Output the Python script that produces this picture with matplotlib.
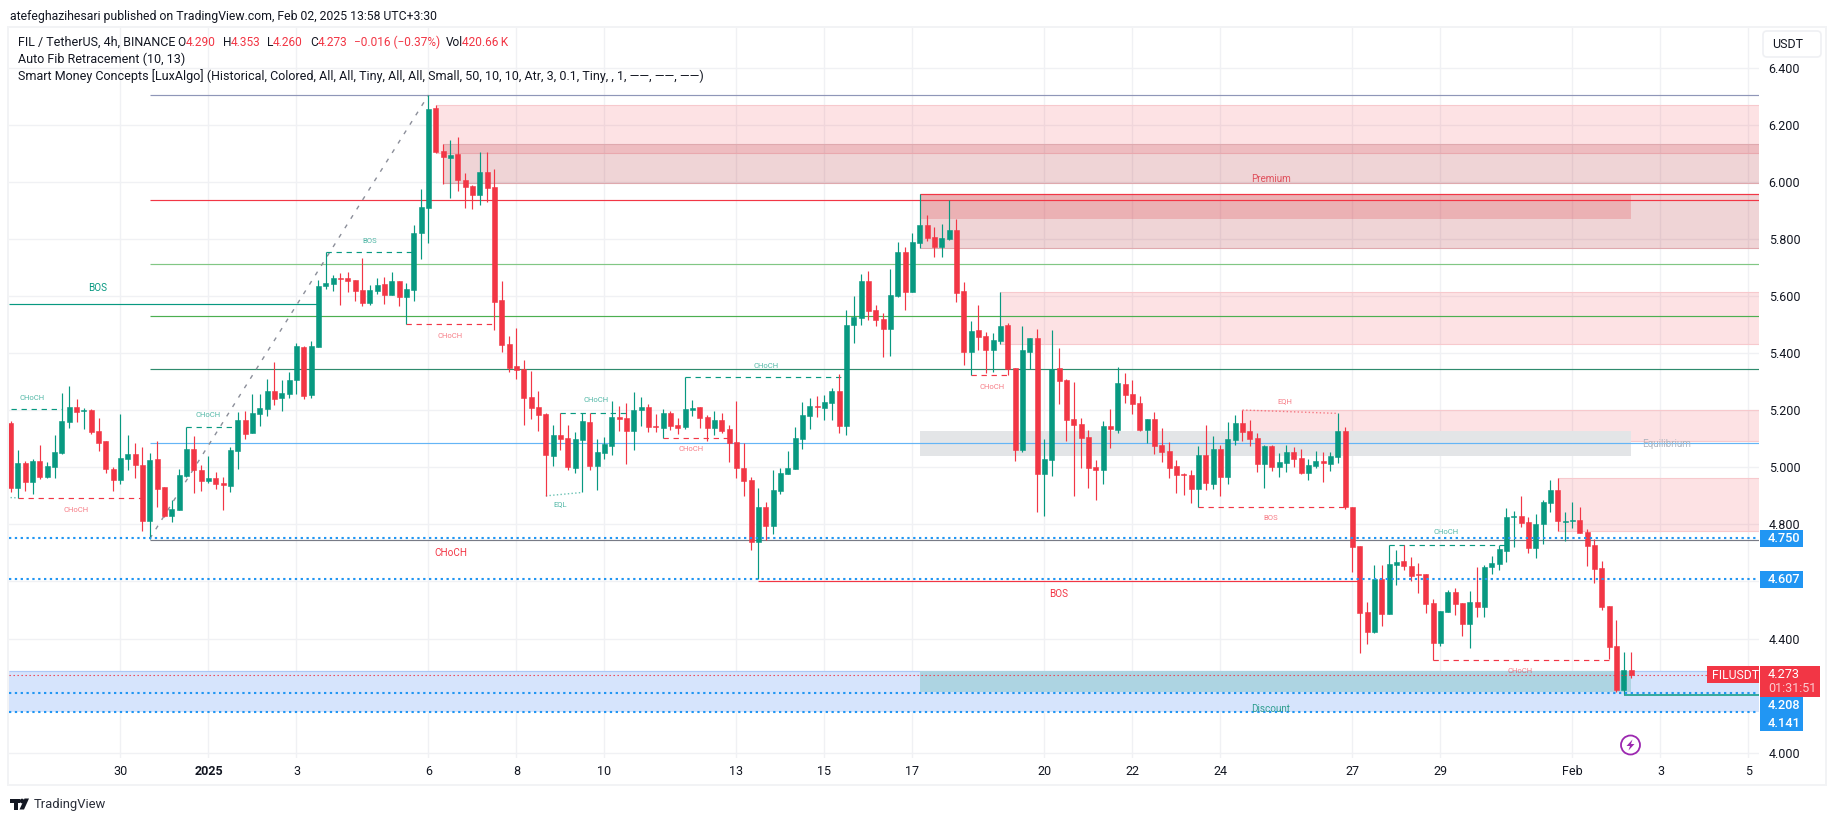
import matplotlib
matplotlib.use("Agg")
import matplotlib.pyplot as plt
from matplotlib.patches import Circle, FancyBboxPatch, Polygon, Rectangle
from matplotlib.transforms import Affine2D

W, H = 1835, 821
GREEN = "#089981"
RED = "#f23645"
BLUE = "#2196f3"
INK = "#131722"
GRID = "#f0f1f4"
FRAME = "#f2f3f5"
FONT = ["Roboto", "DejaVu Sans"]

# 4h candles, oldest first
opens = [
    5.157, 4.929, 5.015, 4.950, 5.022, 4.967, 5.001, 5.050, 5.159, 5.211,
    5.199, 5.201, 5.127, 5.092, 4.994, 4.956, 5.029, 5.047, 5.008, 4.812,
    5.029, 4.931, 4.829, 4.851, 4.970, 5.064, 4.991, 4.952, 4.963, 4.945,
    4.935, 5.057, 5.166, 5.120, 5.187, 5.204, 5.267, 5.243, 5.258, 5.307,
    5.422, 5.254, 5.422, 5.636, 5.643, 5.664, 5.664, 5.657, 5.622, 5.577,
    5.619, 5.643, 5.605, 5.654, 5.598, 5.623, 5.822, 5.910, 6.260, 6.110,
    6.085, 6.099, 6.008, 5.987, 5.956, 6.036, 5.984, 5.588, 5.434, 5.356,
    5.344, 5.247, 5.212, 5.188, 5.041, 5.114, 5.104, 4.998, 5.096, 5.159,
    5.005, 5.050, 5.075, 5.176, 5.173, 5.127, 5.201, 5.211, 5.145, 5.138,
    5.190, 5.148, 5.141, 5.201, 5.211, 5.176, 5.138, 5.166, 5.134, 5.089,
    4.998, 4.956, 4.740, 4.861, 4.794, 4.917, 4.977, 4.994, 5.099, 5.180,
    5.216, 5.208, 5.225, 5.267, 5.145, 5.499, 5.523, 5.653, 5.551, 5.520,
    5.485, 5.600, 5.754, 5.614, 5.786, 5.849, 5.807, 5.772, 5.800, 5.832,
    5.618, 5.404, 5.481, 5.460, 5.411, 5.443, 5.499, 5.348, 5.061, 5.404,
    5.453, 4.977, 5.026, 5.348, 5.306, 5.169, 5.152, 5.106, 5.001, 4.991,
    5.145, 5.131, 5.292, 5.257, 5.225, 5.131, 5.169, 5.078, 5.057, 5.005,
    4.977, 4.973, 4.924, 5.043, 4.942, 5.064, 4.966, 5.096, 5.155, 5.127,
    5.103, 5.012, 5.075, 5.001, 5.015, 5.054, 5.033, 4.980, 5.005, 5.022,
    5.012, 5.036, 5.127, 4.861, 4.724, 4.493, 4.423, 4.609, 4.486, 4.658,
    4.672, 4.654, 4.626, 4.626, 4.525, 4.384, 4.493, 4.563, 4.525, 4.451,
    4.528, 4.511, 4.651, 4.661, 4.707, 4.826, 4.829, 4.808, 4.717, 4.801,
    4.875, 4.921, 4.810, 4.812, 4.815, 4.773, 4.728, 4.647, 4.514, 4.374,
    4.220, 4.290,
]
highs = [
    5.162, 5.061, 5.022, 5.029, 5.078, 5.019, 5.113, 5.260, 5.285, 5.239,
    5.208, 5.204, 5.173, 5.092, 5.001, 5.187, 5.113, 5.085, 5.071, 5.050,
    5.092, 4.931, 4.886, 4.994, 5.141, 5.110, 5.008, 5.040, 4.984, 4.966,
    5.071, 5.194, 5.197, 5.257, 5.257, 5.310, 5.369, 5.306, 5.335, 5.436,
    5.426, 5.443, 5.657, 5.754, 5.675, 5.682, 5.685, 5.657, 5.734, 5.640,
    5.664, 5.668, 5.685, 5.654, 5.647, 5.850, 5.977, 6.305, 6.271, 6.134,
    6.148, 6.159, 6.033, 5.991, 6.106, 6.106, 6.047, 5.654, 5.462, 5.490,
    5.377, 5.338, 5.268, 5.191, 5.149, 5.191, 5.149, 5.125, 5.190, 5.190,
    5.099, 5.106, 5.232, 5.215, 5.225, 5.264, 5.246, 5.222, 5.187, 5.204,
    5.197, 5.173, 5.317, 5.236, 5.211, 5.183, 5.197, 5.190, 5.148, 5.232,
    5.085, 4.967, 4.926, 4.879, 4.991, 4.998, 5.057, 5.141, 5.229, 5.243,
    5.250, 5.253, 5.278, 5.326, 5.551, 5.600, 5.677, 5.688, 5.569, 5.541,
    5.695, 5.790, 5.772, 5.821, 5.958, 5.884, 5.842, 5.853, 5.937, 5.870,
    5.649, 5.513, 5.569, 5.474, 5.471, 5.614, 5.506, 5.348, 5.495, 5.453,
    5.485, 5.099, 5.481, 5.418, 5.310, 5.299, 5.173, 5.131, 5.026, 5.162,
    5.204, 5.351, 5.331, 5.306, 5.250, 5.169, 5.194, 5.138, 5.089, 5.026,
    4.980, 4.991, 5.075, 5.148, 5.110, 5.078, 5.159, 5.183, 5.201, 5.166,
    5.120, 5.078, 5.078, 5.050, 5.078, 5.071, 5.064, 5.029, 5.057, 5.054,
    5.054, 5.189, 5.141, 4.861, 4.724, 4.528, 4.658, 4.658, 4.728, 4.710,
    4.727, 4.687, 4.664, 4.626, 4.539, 4.497, 4.570, 4.577, 4.525, 4.567,
    4.651, 4.658, 4.689, 4.727, 4.858, 4.847, 4.900, 4.826, 4.836, 4.886,
    4.956, 4.963, 4.843, 4.879, 4.861, 4.783, 4.749, 4.672, 4.514, 4.465,
    4.353, 4.353,
]
lows = [
    4.915, 4.891, 4.918, 4.908, 4.959, 4.963, 4.963, 5.047, 5.138, 5.159,
    5.134, 5.117, 5.057, 4.980, 4.917, 4.942, 4.991, 4.963, 4.777, 4.750,
    4.861, 4.825, 4.808, 4.851, 4.966, 4.910, 4.917, 4.945, 4.924, 4.850,
    4.914, 4.994, 5.099, 5.120, 5.145, 5.180, 5.218, 5.197, 5.244, 5.258,
    5.240, 5.244, 5.422, 5.626, 5.619, 5.570, 5.615, 5.584, 5.566, 5.570,
    5.608, 5.573, 5.605, 5.566, 5.502, 5.584, 5.731, 5.787, 6.103, 5.994,
    5.945, 5.970, 5.910, 5.907, 5.921, 5.931, 5.483, 5.405, 5.335, 5.311,
    5.149, 5.170, 5.128, 4.900, 5.006, 5.062, 4.991, 4.981, 4.912, 4.991,
    4.921, 5.029, 5.043, 5.127, 5.012, 5.061, 5.145, 5.124, 5.124, 5.102,
    5.131, 5.117, 5.134, 5.180, 5.138, 5.092, 5.113, 5.120, 5.019, 4.963,
    4.900, 4.710, 4.607, 4.745, 4.766, 4.907, 4.977, 4.994, 5.064, 5.134,
    5.176, 5.166, 5.166, 5.120, 5.113, 5.436, 5.499, 5.516, 5.495, 5.387,
    5.390, 5.597, 5.551, 5.614, 5.769, 5.793, 5.737, 5.737, 5.797, 5.579,
    5.359, 5.324, 5.411, 5.331, 5.334, 5.432, 5.324, 5.022, 5.054, 5.345,
    4.843, 4.829, 4.970, 5.222, 5.092, 4.900, 4.998, 4.928, 4.886, 4.942,
    5.068, 5.120, 5.225, 5.187, 5.127, 5.085, 5.047, 5.019, 4.963, 4.910,
    4.903, 4.875, 4.861, 4.921, 4.924, 4.900, 4.942, 5.078, 5.092, 5.075,
    4.984, 4.928, 4.987, 4.966, 4.984, 5.001, 4.977, 4.956, 4.998, 4.949,
    4.987, 5.015, 4.854, 4.633, 4.349, 4.381, 4.420, 4.444, 4.486, 4.588,
    4.640, 4.601, 4.561, 4.490, 4.324, 4.374, 4.493, 4.483, 4.409, 4.367,
    4.476, 4.476, 4.626, 4.640, 4.668, 4.722, 4.791, 4.700, 4.682, 4.731,
    4.843, 4.777, 4.742, 4.787, 4.770, 4.654, 4.595, 4.500, 4.328, 4.213,
    4.206, 4.260,
]
closes = [
    4.929, 5.015, 4.950, 5.022, 4.967, 5.005, 5.054, 5.162, 5.211, 5.194,
    5.201, 5.124, 5.085, 4.994, 4.956, 5.033, 5.047, 5.008, 4.812, 5.026,
    4.924, 4.829, 4.854, 4.973, 5.064, 4.991, 4.952, 4.963, 4.942, 4.938,
    5.061, 5.166, 5.117, 5.190, 5.208, 5.267, 5.239, 5.260, 5.307, 5.426,
    5.251, 5.426, 5.636, 5.647, 5.664, 5.661, 5.654, 5.619, 5.577, 5.622,
    5.640, 5.605, 5.654, 5.598, 5.626, 5.822, 5.914, 6.257, 6.106, 6.089,
    6.096, 6.008, 5.984, 5.956, 6.036, 5.980, 5.581, 5.430, 5.349, 5.342,
    5.244, 5.209, 5.184, 5.044, 5.114, 5.100, 5.002, 5.100, 5.162, 5.005,
    5.054, 5.082, 5.176, 5.169, 5.127, 5.201, 5.211, 5.141, 5.141, 5.190,
    5.145, 5.138, 5.204, 5.208, 5.173, 5.138, 5.166, 5.127, 5.085, 4.998,
    4.952, 4.740, 4.861, 4.794, 4.921, 4.980, 4.998, 5.103, 5.183, 5.215,
    5.213, 5.229, 5.267, 5.145, 5.499, 5.528, 5.653, 5.548, 5.516, 5.485,
    5.604, 5.754, 5.614, 5.790, 5.849, 5.804, 5.772, 5.804, 5.832, 5.611,
    5.404, 5.478, 5.457, 5.411, 5.446, 5.495, 5.345, 5.061, 5.411, 5.453,
    4.977, 5.029, 5.345, 5.303, 5.166, 5.148, 5.103, 4.998, 4.991, 5.145,
    5.134, 5.295, 5.253, 5.222, 5.131, 5.169, 5.075, 5.054, 4.998, 4.973,
    4.974, 4.924, 5.043, 4.945, 5.064, 4.966, 5.099, 5.155, 5.124, 5.099,
    5.012, 5.075, 5.001, 5.019, 5.054, 5.029, 4.980, 5.008, 5.022, 5.015,
    5.040, 5.127, 4.861, 4.721, 4.490, 4.423, 4.609, 4.486, 4.661, 4.668,
    4.654, 4.619, 4.623, 4.521, 4.384, 4.497, 4.563, 4.521, 4.451, 4.528,
    4.511, 4.651, 4.665, 4.714, 4.826, 4.829, 4.805, 4.717, 4.801, 4.879,
    4.921, 4.812, 4.813, 4.815, 4.770, 4.724, 4.644, 4.511, 4.370, 4.220,
    4.290, 4.273,
]

price_ticks = [6.4, 6.2, 6.0, 5.8, 5.6, 5.4, 5.2, 5.0, 4.8, 4.6, 4.4, 4.2, 4.0]
price_labels = ["6.400", "6.200", "6.000", "5.800", "5.600", "5.400", "5.200",
                "5.000", "4.800", "", "4.400", "", "4.000"]
date_ticks = [15, 27, 39, 57, 69, 81, 99, 111, 123, 141, 153, 165, 183, 195, 213, 225, 237]
date_labels = ["30", "2025", "3", "6", "8", "10", "13", "15", "17", "20", "22", "24",
               "27", "29", "Feb", "3", "5"]

# auto fib levels, drawn from the swing low candle to the right edge
fib_start = 19
fib_levels = [6.304, 5.936, 5.712, 5.529, 5.344, 5.084, 4.747]
fib_colors = ["#8f96b8", RED, "#81c784", "#4caf50", "#2e8b6d", "#64b5f6", "#787b86"]
fib_swing = [(19, 4.750), (57, 6.305)]

# zones: start candle, end candle (None = right edge), top, bottom
pink_zones = [(58, None, 6.270, 6.103), (135, None, 5.614, 5.433),
              (168, None, 5.201, 5.092), (211, None, 4.961, 4.778)]
rose_zones = [(59, None, 6.132, 5.996), (124, None, 5.958, 5.770)]
dark_zone = (124, 221, 5.958, 5.870)
grey_zone = (124, 221, 5.127, 5.041)
discount_zone = (4.287, 4.141)
teal_zone = (124, 221, 4.287, 4.211)

# structure breaks: start candle, end candle, level
green_dashed = [(0, 7, 5.204), (24, 31, 5.140), (43, 55, 5.754), (75, 84, 5.190),
                (92, 114, 5.317), (188, 204, 4.727)]
red_dashed = [(1, 18, 4.892), (54, 66, 5.501), (89, 98, 5.102), (131, 136, 5.323),
              (162, 182, 4.861), (194, 218, 4.324)]
big_bos = (-1, 42, 5.571)
big_bos_red = (102, 184, 4.600)
last_low = (220, None, 4.203)
eql_line = [(73, 4.900), (78, 4.912)]
eqh_line = [(168, 5.201), (181, 5.189)]
left_eql = [(-1, 4.895), (1, 4.893)]

# price lines across the whole pane
blue_dotted = [4.752, 4.607, 4.208, 4.141]
last_price = 4.273

tiny_green = [("CHoCH", 32, 398), ("CHoCH", 208, 415), ("BOS", 370, 241), ("CHoCH", 596, 400),
              ("EQL", 560, 504), ("CHoCH", 766, 366), ("CHoCH", 1446, 532)]
tiny_red = [("CHoCH", 76, 510), ("CHoCH", 450, 336), ("CHoCH", 691, 449), ("CHoCH", 992, 387),
            ("EQH", 1285, 401), ("BOS", 1271, 518), ("CHoCH", 1520, 671)]
small_labels = [("BOS", 98, 288, GREEN), ("CHoCH", 451, 553, RED), ("BOS", 1059, 594, RED),
                ("Premium", 1271, 179, "#e0505c"), ("Equilibrium", 1667, 444, "#b2b5be"),
                ("Discount", 1271, 709, "#2f9e90")]
axis_tags = [("4.750", 538.5), ("4.607", 579.5), ("4.208", 705.5), ("4.141", 723)]

fig = plt.figure(figsize=(W / 100, H / 100), dpi=100, facecolor="white")
ax = fig.add_axes([9 / W, 1 - 758 / H, 1750 / W, 731 / H])
ax.set_xlim(-0.205, 238.44)
ax.set_ylim(3.9812, 6.5434)
ax.set_facecolor("white")
for s in ax.spines.values():
    s.set_visible(False)
right_edge = ax.get_xlim()[1]
left_edge = ax.get_xlim()[0]

ax.yaxis.tick_right()
ax.set_yticks(price_ticks, price_labels, fontsize=9.0, color=INK, family=FONT)
ax.set_xticks(date_ticks, date_labels, fontsize=9.0, color=INK, family=FONT)
ax.get_xticklabels()[1].set_fontweight("bold")
ax.tick_params(axis="y", length=0, pad=7)
ax.tick_params(axis="x", length=0, pad=5)
ax.grid(True, color=GRID, lw=1.0, zorder=0)
ax.set_axisbelow(True)


def zone(x0, x1, top, bottom, color, alpha, edge=None, z=1.0):
    x1 = right_edge if x1 is None else x1
    ax.add_patch(Rectangle((x0, bottom), x1 - x0, top - bottom, fc=color, alpha=alpha, lw=0, zorder=z))
    if edge:
        ax.hlines([top, bottom], x0, x1, color=edge, lw=0.8, zorder=z)


ax.add_patch(Rectangle((left_edge, discount_zone[1]), right_edge - left_edge,
                       discount_zone[0] - discount_zone[1], fc="#d6e4fc", lw=0, zorder=1))
ax.hlines(discount_zone[0], left_edge, right_edge, color="#adc9f7", lw=0.9, zorder=1)
for x0, x1, top, bottom in pink_zones:
    zone(x0, x1, top, bottom, RED, 0.14, "#f7c9cd")
for x0, x1, top, bottom in rose_zones:
    zone(x0, x1, top, bottom, "#b22833", 0.2, "#dfa9ae", z=1.1)
zone(*dark_zone, "#e0353f", 0.22, z=1.2)
zone(*grey_zone, "#e3e5e7", 1.0, z=1.1)
zone(*teal_zone, "#add4e2", 1.0, z=1.2)

for level, color in zip(fib_levels, fib_colors):
    ax.hlines(level, fib_start, right_edge, color=color, lw=0.85, zorder=2)
ax.plot([p[0] for p in fib_swing], [p[1] for p in fib_swing], color="#8b8e99", lw=1.0,
        dashes=(3, 5), zorder=2)
ax.hlines(dark_zone[2], dark_zone[0], right_edge, color=RED, lw=0.85, zorder=2)

for x0, x1, level in green_dashed:
    ax.plot([x0, x1], [level, level], color=GREEN, lw=0.85, dashes=(4.5, 4), zorder=2)
for x0, x1, level in red_dashed:
    ax.plot([x0, x1], [level, level], color=RED, lw=0.85, dashes=(4.5, 4), zorder=2)
ax.hlines(big_bos[2], left_edge, big_bos[1], color=GREEN, lw=0.85, zorder=2)
ax.hlines(big_bos_red[2], big_bos_red[0], big_bos_red[1], color=RED, lw=0.85, zorder=2)
ax.hlines(last_low[2], last_low[0], right_edge, color=GREEN, lw=1.1, zorder=2)
ax.plot(*zip(*eql_line), color=GREEN, lw=1.0, ls=":", alpha=0.6, zorder=2)
ax.plot(*zip(*left_eql), color=GREEN, lw=1.0, ls=":", alpha=0.6, zorder=2)
ax.plot(*zip(*eqh_line), color=RED, lw=1.0, ls=":", alpha=0.6, zorder=2)

# candles
xs = list(range(len(opens)))
colors = [GREEN if c >= o else RED for o, c in zip(opens, closes)]
ax.vlines(xs, lows, highs, colors=colors, lw=0.85, zorder=3)
ax.bar(xs, [abs(c - o) for o, c in zip(opens, closes)], bottom=[min(o, c) for o, c in zip(opens, closes)],
       width=0.66, color=colors, edgecolor=colors, linewidth=0.4, zorder=3.1)

for level in blue_dotted:
    ax.hlines(level, left_edge, right_edge, color=BLUE, lw=1.5, linestyles=[(0, (1.1, 1.7))], zorder=4)
ax.hlines(last_price, left_edge, right_edge, color=RED, lw=0.8, linestyles=[(0, (1.2, 2.4))], zorder=4)

# overlay that works in reference pixels, y down
px = Affine2D().scale(1, -1).translate(0, H)


def text(s, x, y, size=9.0, color=INK, ha="left", weight="normal", alpha=None):
    fig.text(x, y, s, transform=px, fontsize=size, color=color, ha=ha, va="center",
             family=FONT, fontweight=weight, alpha=alpha, zorder=20)


def box(x0, y0, x1, y1, fc, ec="none", lw=0):
    fig.add_artist(Rectangle((x0, y0), x1 - x0, y1 - y0, transform=px, fc=fc, ec=ec, lw=lw, zorder=15))


# pane frame
box(7, 26, 1826, 28, FRAME)
box(7, 26, 9, 786, FRAME)
box(1825, 26, 1827, 786, FRAME)
box(7, 784, 1827, 786, FRAME)
fig.add_artist(FancyBboxPatch((1763, 31), 58, 26, boxstyle="round,pad=0,rounding_size=4", transform=px,
                              fc="white", ec="#eff0f3", lw=1.2, zorder=15))
text("USDT", 1772, 44)

# header and legend
text("atefeghazihesari published on TradingView.com, Feb 02, 2025 13:58 UTC+3:30", 10, 16, size=8.8)
text("FIL / TetherUS, 4h, BINANCE", 18, 42)
for s, x, c in [("O", 177.5, INK), ("4.290", 186, RED), ("H", 222.5, INK), ("4.353", 230.5, RED),
                ("L", 267.5, INK), ("4.260", 273, RED), ("C", 310, INK), ("4.273", 317.5, RED),
                ("\u22120.016 (\u22120.37%)", 354.5, RED), ("Vol", 446, INK), ("420.66\u2009K", 462.5, RED)]:
    text(s, x, 42, color=c, size=8.6)
text("Auto Fib Retracement (10, 13)", 18, 59)
text("Smart Money Concepts [LuxAlgo] (Historical, Colored, All, All, Tiny, All, All, Small, 50, 10, 10, "
     "Atr, 3, 0.1, Tiny, , 1, \u2014\u2014, \u2014\u2014, \u2014\u2014)", 18, 76)

for s, x, y in tiny_green:
    text(s, x, y, size=5.5, color=GREEN, ha="center", alpha=0.7)
for s, x, y in tiny_red:
    text(s, x, y, size=5.5, color=RED, ha="center", alpha=0.65)
for s, x, y, c in small_labels:
    text(s, x, y, size=7.1, color=c, ha="center")

# price axis tags
box(1760, 530, 1803, 547, BLUE)
box(1760, 571, 1803, 588, BLUE)
box(1760, 697, 1803, 731, BLUE)
box(1760, 666, 1820, 697, RED)
box(1707, 666, 1759, 683, RED)
for s, y in axis_tags:
    text(s, 1768, y, color="white", size=9.2, weight="medium")
text("FILUSDT", 1712, 675, color="white", size=8.8)
text(f"{last_price:.3f}", 1768, 674.5, color="white", size=9.2)
text("01:31:51", 1768, 688.5, color="white", size=9, alpha=0.75)

# event marker
fig.add_artist(Circle((1630.5, 745), 9.5, transform=px, fc="white", ec="#9c27b0", lw=1.3, zorder=16))
fig.add_artist(Polygon([(1632.5, 739.5), (1626.5, 746), (1630, 746), (1628.5, 750.5), (1634.5, 744),
                        (1631, 744)], transform=px, fc="#9c27b0", lw=0, zorder=17))

# TradingView logo
fig.add_artist(Rectangle((10, 798.5), 9.5, 4.5, transform=px, fc=INK, lw=0, zorder=16))
fig.add_artist(Rectangle((13.5, 798.5), 4.5, 11, transform=px, fc=INK, lw=0, zorder=16))
fig.add_artist(Circle((22, 801), 2.3, transform=px, fc=INK, lw=0, zorder=16))
fig.add_artist(Polygon([(24.5, 798.5), (29, 798.5), (24, 809.5), (19.5, 809.5)], transform=px, fc=INK,
                       lw=0, zorder=16))
text("TradingView", 33.5, 804, size=9.4, color="#2a2e39")

fig.savefig("out.png", dpi=100)
